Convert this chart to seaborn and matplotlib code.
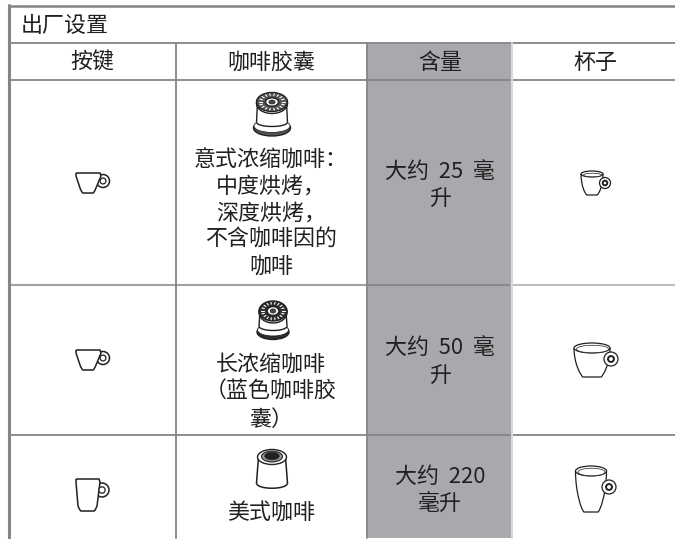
import numpy as np
import matplotlib
matplotlib.use("Agg")
import matplotlib.pyplot as plt
import seaborn as sns
from matplotlib.patches import Ellipse, Circle, PathPatch, Rectangle
from matplotlib.path import Path

# table text
table_title = "出厂设置"
headers = ["按键", "咖啡胶囊", "含量", "杯子"]
capsule_text = [
  ["意式浓缩咖啡：", "中度烘烤，", "深度烘烤，", "不含咖啡因的", "咖啡"],
  ["长浓缩咖啡", "（蓝色咖啡胶", "囊）"],
  ["美式咖啡"],
]
volume_text = [
  ["大约  25  毫", "升"],
  ["大约  50  毫", "升"],
  ["大约  220", "毫升"],
]

INK = "#231f20"
RULE = "#838588"
GREY = "#a8a9ad"

sns.set_theme(style="white")
plt.rcParams['font.family'] = ['Noto Sans CJK SC', 'DejaVu Sans']

fig = plt.figure(figsize=(6.75, 5.39), dpi=100)
ax = fig.add_axes([0, 0, 1, 1])
ax.set_axis_off()


def rule(x0, x1, y0, y1, color=RULE, lw=1.3):
  sns.lineplot(x=[x0, x1], y=[y0, y1], color=color, lw=lw, sort=False,
               estimator=None, ax=ax, zorder=3)


def label(x, y, s, ha='center'):
  ax.text(x, y + 2, s, ha=ha, va='center', fontsize=15.8, color=INK,
          fontweight='light', zorder=5)


def button_cup(x, top, bottom, right, hx, hy, r, x_base0, x_base1):
  # flat rim, tapered sides, rounded base, ring handle
  verts = [(x, top), (right, top), (right + 1, top + 3),
           (x_base1 + 3, bottom - 5), (x_base1 + 1, bottom), (x_base1, bottom),
           (x_base0, bottom), (x_base0 - 1, bottom), (x_base0 - 3, bottom - 5), (x, top + 3), (x, top)]
  codes = [Path.MOVETO, Path.LINETO, Path.LINETO,
           Path.LINETO, Path.CURVE3, Path.CURVE3,
           Path.LINETO, Path.CURVE3, Path.CURVE3, Path.LINETO, Path.LINETO]
  ax.add_patch(Circle((hx, hy), r, fc='white', ec=INK, lw=1.1, zorder=3.5))
  ax.add_patch(Circle((hx, hy), r * 0.45, fc='white', ec=INK, lw=0.9, zorder=4.2))
  ax.add_patch(PathPatch(Path(verts, codes), fc='white', ec=INK, lw=1.1, zorder=4))


def sketch_cup(cx, rim_y, w, h, bottom, base_hw, hx, hy, r):
  hw = w / 2
  mid = rim_y + (bottom - rim_y) * 0.55
  verts = [(cx - hw, rim_y), (cx - hw, mid), (cx - base_hw - 2, bottom - 1), (cx - base_hw, bottom),
           (cx + base_hw, bottom), (cx + base_hw + 2, bottom - 1), (cx + hw, mid), (cx + hw, rim_y)]
  codes = [Path.MOVETO, Path.CURVE4, Path.CURVE4, Path.CURVE4,
           Path.LINETO, Path.CURVE4, Path.CURVE4, Path.CURVE4]
  ax.add_patch(PathPatch(Path(verts, codes), fc='white', ec=INK, lw=0.9, zorder=4))
  ax.add_patch(Ellipse((cx, rim_y), w, h, fc='white', ec=INK, lw=0.9, zorder=4))
  ax.add_patch(Ellipse((cx + 0.5, rim_y + 1), w - 4, h - 2.5, fc='white', ec=INK, lw=0.5, zorder=4))
  ax.add_patch(Circle((hx, hy), r, fc='white', ec=INK, lw=0.9, zorder=4.2))
  ax.add_patch(Circle((hx, hy), r * 0.42, fc='white', ec=INK, lw=1.4, zorder=4.3))


def ribbed_capsule(cx, top_y, top_w, top_h, base_y, base_w, base_h, body_bottom, dark):
  hw = top_w / 2 - 1
  # flange
  ax.add_patch(Ellipse((cx, base_y), base_w, base_h, fc=dark, ec=INK, lw=1, zorder=3.6))
  ax.add_patch(Ellipse((cx, base_y - 2), base_w - 1, base_h - 3, fc='white', ec=INK, lw=0.6, zorder=3.7))
  # body with a curved lower edge
  verts = [(cx - hw, top_y), (cx - hw - 1, body_bottom - 3),
           (cx - hw - 1, body_bottom + 3), (cx + hw + 1, body_bottom + 3), (cx + hw + 1, body_bottom - 3),
           (cx + hw, top_y), (cx - hw, top_y)]
  codes = [Path.MOVETO, Path.LINETO, Path.CURVE4, Path.CURVE4, Path.CURVE4, Path.LINETO, Path.LINETO]
  ax.add_patch(PathPatch(Path(verts, codes), fc='white', ec=INK, lw=1, zorder=4))
  # ribbed lid
  ax.add_patch(Ellipse((cx, top_y + 1.5), top_w, top_h, fc='white', ec=INK, lw=1, zorder=4.1))
  ax.add_patch(Ellipse((cx, top_y), top_w, top_h - 1, fc=dark, ec=INK, lw=1, zorder=4.2))
  for ang in range(0, 360, 20):
    a = np.deg2rad(ang)
    ax.plot([cx + np.cos(a) * top_w * 0.33, cx + np.cos(a) * top_w * 0.42],
            [top_y + np.sin(a) * top_h * 0.33, top_y + np.sin(a) * top_h * 0.42],
            color='white', lw=0.8, zorder=4.4)
  ax.add_patch(Ellipse((cx, top_y), top_w * 0.42, top_h * 0.42, fc='white', ec=INK, lw=1, zorder=4.5))
  ax.add_patch(Ellipse((cx, top_y), top_w * 0.2, top_h * 0.2, fc='#444444', ec=INK, lw=0.5, zorder=4.6))


def plain_capsule(cx, top_y, w, h, bottom):
  hw = w / 2
  verts = [(cx - hw + 1, top_y), (cx - hw - 1, bottom - 5),
           (cx - hw - 1, bottom + 2), (cx + hw + 1, bottom + 2), (cx + hw + 1, bottom - 5),
           (cx + hw - 1, top_y), (cx - hw + 1, top_y)]
  codes = [Path.MOVETO, Path.LINETO, Path.CURVE4, Path.CURVE4, Path.CURVE4,
           Path.LINETO, Path.LINETO]
  ax.add_patch(PathPatch(Path(verts, codes), fc='white', ec=INK, lw=1.1, zorder=4))
  ax.add_patch(Ellipse((cx, top_y), w, h, fc='white', ec=INK, lw=1.0, zorder=4.2))
  ax.add_patch(Ellipse((cx, top_y - 0.5), w * 0.72, h * 0.72, fc='#9a9a9a', ec=INK, lw=0.8, zorder=4.3))
  ax.add_patch(Ellipse((cx, top_y - 1), w * 0.5, h * 0.5, fc='#222222', ec=INK, lw=0.5, zorder=4.4))


# grey volume column
ax.add_patch(Rectangle((367, 43), 144, 495, fc=GREY, ec='none', zorder=1))

# ruled lines, horizontals first so the verticals sit on top
rule(9, 675, 6, 6, lw=1.8)
rule(9, 675, 43, 43)
rule(9, 675, 80, 80)
rule(9, 367, 285, 285, color='#a0a2a4', lw=1.5)
rule(367, 511, 285, 285)
rule(511, 675, 285, 285, color='#bcbec0', lw=1.5)
rule(9, 675, 435, 435)
rule(511.5, 511.5, 43, 538, color='#d8d9da', lw=1.5)
rule(8.5, 8.5, 5, 538, lw=2.2)
rule(176, 176, 43, 538)
rule(367, 367, 43, 538)

# text
label(21, 24, table_title, ha='left')
for x, h in zip([92, 271, 440, 595], headers):
  label(x, 61, h)

for lines, ys in zip(capsule_text, [[159, 185, 212, 238, 265], [363, 390, 418], [512]]):
  for y, s in zip(ys, lines):
    label(271, y, s)

for lines, ys in zip(volume_text, [[170, 197], [346, 374], [475, 502]]):
  for y, s in zip(ys, lines):
    label(440, y, s)

# button icons
button_cup(76, 173, 193, 100, 103, 181, 6.5, 83, 93)
button_cup(76, 350, 370, 100, 103, 358, 6.5, 83, 93)
button_cup(76, 479, 511, 99, 102, 490, 7, 81, 94)

# cup drawings
sketch_cup(592, 174, 22, 6, 195, 5, 605, 183, 5.5)
sketch_cup(592, 348, 36, 10, 377, 9, 611, 359, 7)
sketch_cup(591, 471, 31, 10, 512, 7, 609, 487, 7)

# capsules
ribbed_capsule(272, 102, 31, 20, 128, 37, 16, 125, '#555555')
ribbed_capsule(273, 311, 28, 21, 332, 32, 15, 329, '#2e2e2e')
plain_capsule(272, 457, 29, 15, 488)

ax.set_xlim(0, 675)
ax.set_ylim(539, 0)
fig.savefig("out.png", dpi=100, facecolor='white')
